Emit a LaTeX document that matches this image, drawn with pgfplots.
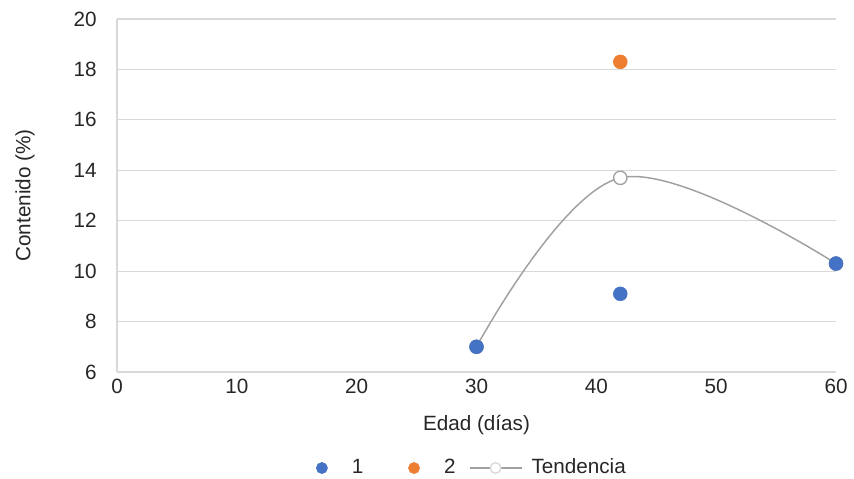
\documentclass[border=0pt]{standalone}
\usepackage{pgfplots}
\pgfplotsset{compat=1.18}
\usepackage{fontspec}
\setmainfont{Liberation Sans}
\definecolor{sblue}{HTML}{4472C4}
\definecolor{sorange}{HTML}{ED7D31}
\definecolor{tgray}{HTML}{A0A0A0}
\definecolor{gridc}{HTML}{D9D9D9}
\pgfplotsset{
  legmark/.style={legend image code/.code={\path[draw=none,fill=none] (-28pt,0) (15.5pt,0); \draw[##1] plot coordinates {(0pt,0pt)};}},
  legline/.style={legend image code/.code={\draw[##1, mark repeat=2, mark phase=2] plot coordinates {(3.3pt,0pt) (22.8pt,0pt) (42.3pt,0pt)};}},
}
\begin{document}
\fontsize{15.5}{18}\selectfont
\begin{tikzpicture}
\begin{axis}[
  name=ax,
  scale only axis,
  width=539.25pt, height=264.75pt,
  xmin=0, xmax=60, ymin=6, ymax=20,
  xtick={0,10,...,60}, ytick={6,8,...,20},
  /pgf/number format/assume math mode=true,
  ticklabel style={font=\fontsize{15.5}{18}\selectfont, text=black!85},
  yticklabel style={xshift=-10pt},
  major tick length=0pt,
  ymajorgrids, grid style={gridc, line width=0.9pt},
  axis line style={gridc, line width=0.9pt},
  axis x line*=bottom, axis y line*=left,
  separate axis lines,
  x axis line style={draw=none},
  xlabel={Edad (días)}, ylabel={Contenido (\%)},
  label style={font=\fontsize{15.5}{18}\selectfont, text=black!85},
  xlabel style={at={(axis description cs:0.5,-0.150)}, anchor=center},
  ylabel style={at={(axis description cs:-0.128,0.5)}, anchor=center},
  legend style={at={(axis description cs:0.5,-0.272)}, anchor=center, draw=none, fill=none,
    legend columns=3, font=\fontsize{15.5}{18}\selectfont, text=black!85,
    /tikz/every odd column/.append style={column sep=5pt},
    /tikz/every even column/.append style={column sep=8pt},
    xshift=-15pt},
  legend cell align=left,
  clip=false,
]
\addlegendimage{only marks, mark=*, mark size=4.2pt, color=sblue, legmark}
\addlegendentry{1}
\addlegendimage{only marks, mark=*, mark size=4.2pt, color=sorange, legmark}
\addlegendentry{2}
\addlegendimage{tgray, line width=1pt, mark=*, mark size=4pt, mark options={fill=white, draw=gridc}, legline}
\addlegendentry{Tendencia}
\addplot[tgray, line width=1.1pt, smooth, tension=0.6, mark=*, mark size=5pt, mark options={fill=white, draw=tgray, line width=1pt}, forget plot]
  coordinates {(30,7.0) (42,13.7) (60,10.3)};
\addplot[only marks, mark=*, mark size=5.2pt, color=sblue, forget plot]
  coordinates {(30,7.0) (42,9.1) (60,10.3)};
\addplot[only marks, mark=*, mark size=5.2pt, color=sorange, forget plot]
  coordinates {(42,18.3)};
\end{axis}
\pgfresetboundingbox
\path[use as bounding box] ([xshift=-87.75pt,yshift=-79.5pt]ax.south west) rectangle ([xshift=13.5pt,yshift=14.25pt]ax.north east);
\end{tikzpicture}
\end{document}
